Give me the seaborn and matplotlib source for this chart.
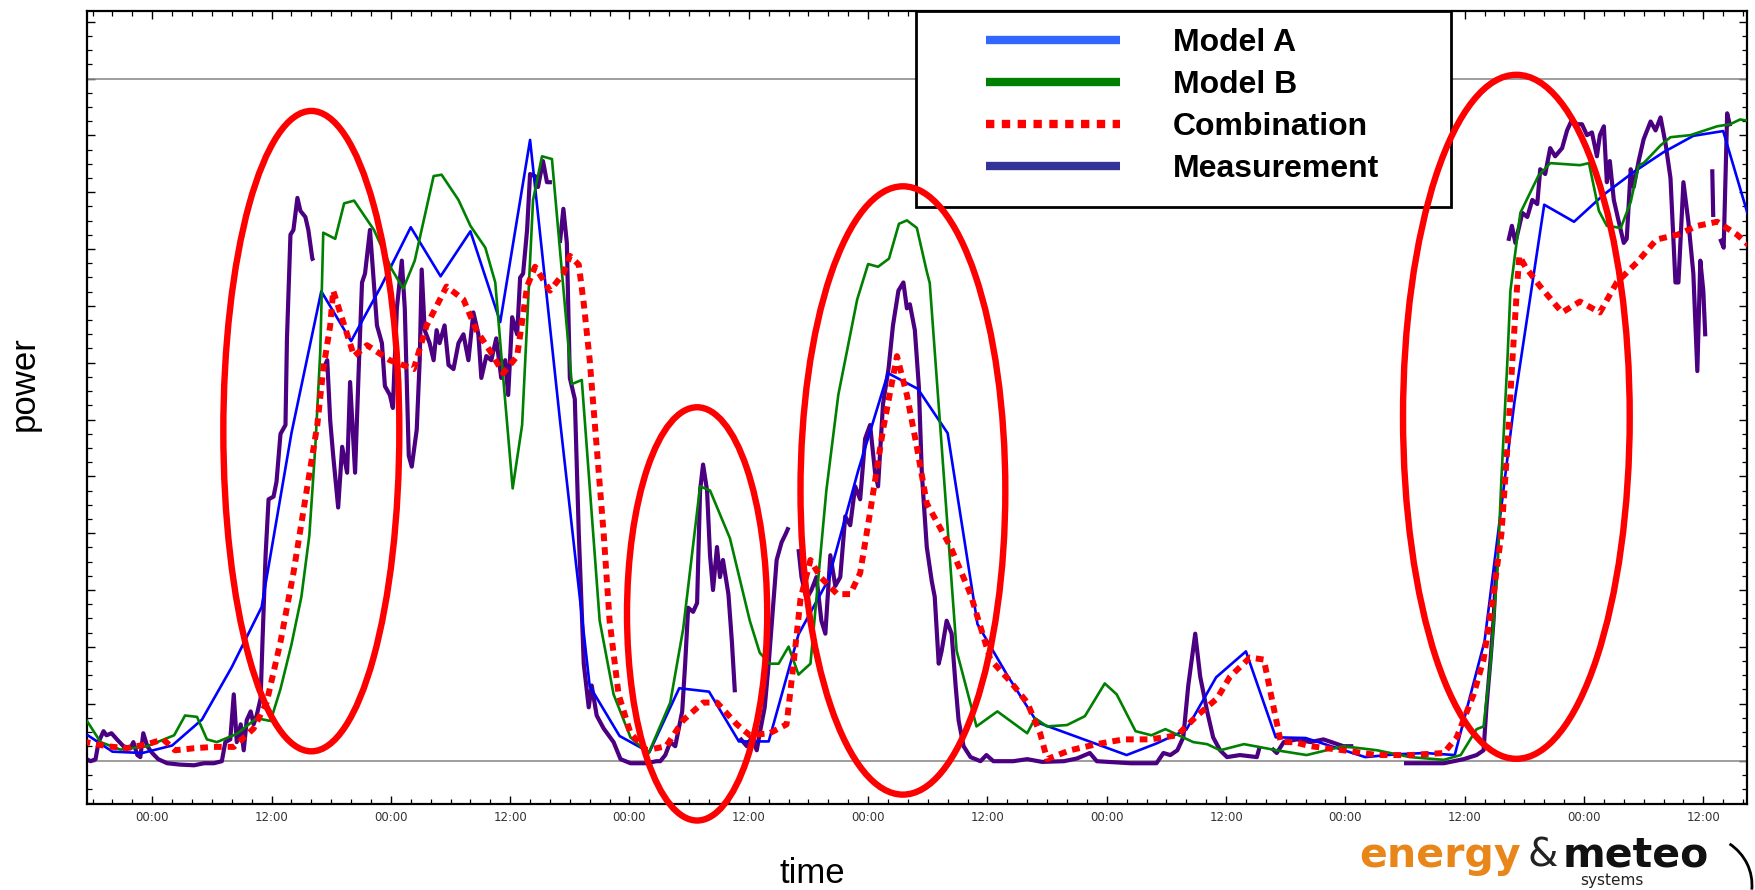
import numpy as np
import pandas as pd
import matplotlib
matplotlib.use("Agg")
import matplotlib.pyplot as plt
import matplotlib.dates as mdates
from matplotlib.patches import Ellipse, Rectangle, Arc
from matplotlib.lines import Line2D
from matplotlib.ticker import MultipleLocator
import seaborn as sns

# hours counted from the first 00:00 tick, power in % of installed capacity
start = pd.Timestamp("2010-11-15 00:00")

model_a_hours = list(range(-7, 162, 3))
model_a = [4.2, 1.3, 1.1, 2.2, 6.0, 13.7, 22.5, 48.0, 68.8, 61.5,
           69.5, 78.2, 71.0, 77.6, 64.3, 91.0, 50.0, 10.9, 3.6, 1.2,
           10.6, 10.1, 2.8, 2.8, 18.5, 26.5, 42.5, 56.8, 54.5, 48.0,
           20.0, 12.5, 5.6, 4.0, 2.4, 0.8, 2.5, 4.5, 12.2, 16.0,
           3.4, 3.3, 1.9, 0.5, 0.9, 1.1, 0.8, 17.5, 52.5, 81.5,
           79.0, 83.0, 86.3, 89.2, 91.6, 92.3, 77.5]

model_b_hours = [-7, -5.2, -3.2, -0.5, 2.2, 3.3, 4.5, 5.5, 6.5, 8.5,
                 10.5, 11.9, 12.9, 14.0, 15.0, 15.8, 16.4, 16.9, 17.2, 18.4,
                 19.3, 20.3, 22.3, 24.1, 25.25, 26.4, 28.3, 29.1, 30.8, 32.0,
                 33.5, 34.5, 35.3, 36.25, 37.2, 38.3, 39.2, 40.2, 42.2, 43.2,
                 45.0, 46.4, 48.1, 49.9, 52.1, 53.4, 55.1, 56.1, 58.1, 60.1,
                 61.1, 62.1, 63.0, 64.0, 65.0, 66.2, 66.8, 67.8, 69.0, 70.9,
                 72.0, 73.0, 74.1, 75.1, 75.9, 76.9, 77.9, 78.2, 80.9, 82.9,
                 85.0, 88.0, 88.8, 90.0, 92.0, 93.8, 95.8, 97.0, 98.9, 100.5,
                 101.9, 104.7, 106.1, 107.4, 109.8, 113.1, 116.1, 119.8, 123.2, 126.5,
                 129.9, 131.6, 133.2, 133.9, 134.6, 135.3, 135.7, 136.3, 136.6, 137.6,
                 139.4, 140.6, 143.6, 144.5, 145.5, 146.3, 147.7, 148.7, 149.5, 150.0,
                 151.7, 152.7, 154.7, 157.4, 158.7, 159.7, 161.0]
model_b = [6.8, 2.7, 1.6, 2.1, 3.7, 6.6, 6.4, 3.1, 2.7, 3.9,
           6.2, 5.8, 10.5, 17.0, 24.0, 33.0, 46.0, 60.0, 77.4, 76.5,
           81.7, 82.1, 77.8, 72.0, 69.2, 73.3, 85.7, 85.9, 82.2, 78.4,
           75.2, 70.1, 56.1, 39.9, 49.2, 82.2, 88.6, 88.2, 55.2, 55.8,
           20.5, 9.7, 3.4, 1.0, 8.5, 19.3, 40.2, 39.6, 32.6, 20.5,
           15.8, 14.2, 14.2, 16.7, 12.6, 14.2, 23.7, 39.6, 53.6, 67.6,
           72.8, 72.4, 73.6, 78.7, 79.2, 78.1, 71.7, 70.0, 16.1, 5.0,
           7.2, 4.0, 6.2, 5.0, 5.2, 6.5, 11.3, 9.7, 4.3, 3.7,
           4.6, 2.7, 2.4, 1.5, 2.4, 1.5, 0.8, 2.1, 1.5, 0.5,
           0.1, 0.8, 4.6, 5.0, 14.2, 28.0, 41.5, 58.7, 68.9, 80.3,
           85.7, 87.6, 87.3, 87.6, 80.6, 78.4, 78.1, 81.9, 87.3, 87.6,
           90.2, 91.4, 91.7, 93.0, 93.3, 94.0, 93.7]

combination_hours = [-7, -4.6, -2.6, -0.5, 1.1, 2.3, 4.2, 6.2, 8.2, 10.2,
                     11.5, 12.9, 14.2, 15.6, 16.6, 17.2, 17.9, 18.2, 18.9, 20.3,
                     21.6, 23.9, 26.3, 27.6, 29.6, 31.3, 32.6, 34.0, 35.3, 36.7,
                     37.7, 38.5, 40.0, 41.35, 42.0, 42.9, 43.4, 44.0, 44.7, 45.4,
                     46.0, 46.9, 48.1, 49.7, 51.7, 53.4, 55.4, 56.8, 58.8, 60.1,
                     62.1, 63.8, 64.5, 65.2, 66.2, 67.2, 68.9, 70.2, 71.2, 72.2,
                     73.5, 74.9, 75.9, 76.9, 77.9, 80.3, 82.3, 84.3, 86.3, 88.0,
                     89.3, 90.0, 92.3, 95.0, 97.7, 100.4, 103.1, 105.1, 107.1, 108.4,
                     110.4, 111.8, 112.6, 113.5, 114.8, 116.5, 119.8, 123.2, 126.5, 129.9,
                     131.2, 132.9, 133.9, 134.9, 135.7, 136.3, 136.8, 137.3, 137.5, 138.1,
                     139.6, 141.8, 143.6, 145.6, 147.3, 149.3, 151.3, 153.4, 155.4, 157.4,
                     159.4, 161.0]
combination = [2.8, 2.1, 1.8, 2.4, 3.1, 1.5, 1.8, 2.0, 2.0, 4.7,
               8.5, 17.4, 27.5, 40.2, 49.2, 57.4, 63.8, 68.9, 65.7, 59.3,
               60.9, 58.7, 57.4, 63.8, 69.5, 67.6, 63.1, 60.0, 56.8, 59.3,
               69.5, 72.4, 68.9, 71.4, 74.0, 72.7, 67.0, 58.7, 46.0, 33.3,
               20.5, 9.7, 4.0, 1.5, 2.1, 5.9, 8.5, 8.5, 5.3, 3.7,
               4.0, 5.3, 14.2, 23.7, 29.4, 26.9, 24.4, 24.4, 27.5, 36.4,
               48.5, 59.3, 53.6, 46.0, 37.7, 31.3, 24.4, 14.8, 11.6, 8.5,
               4.0, 0.2, 1.5, 2.4, 3.1, 3.1, 3.7, 6.6, 9.1, 12.3,
               15.1, 14.8, 9.1, 2.7, 2.7, 2.1, 1.5, 0.8, 0.8, 1.1,
               3.4, 9.7, 14.8, 24.4, 33.3, 46.0, 58.7, 70.1, 74.0, 72.4,
               69.5, 65.7, 67.3, 65.7, 70.1, 73.0, 76.4, 77.1, 78.4, 79.0,
               77.1, 75.0]

nan = np.nan
measurement_hours = [
    -6.6, -6.2, -5.7, -5.4, -4.9, -4.6, -4.1, -3.55, -2.9, -2.2,
    -1.9, -1.5, -1.2, -0.9, -0.5, 0.0, 0.6, 1.5, 2.8, 4.2,
    5.2, 6.2, 7.0, 7.35, 7.85, 8.2, 8.5, 8.9, 9.2, 9.5,
    9.9, 10.2, 10.5, 10.9, 11.1, 11.4, 11.7, 12.2, 12.5, 12.9,
    13.4, 13.55, 13.9, 14.2, 14.6, 14.9, 15.4, 15.7, 16.1, 16.2,
    16.7, 17.2, 17.6, 17.9, 18.2, 18.7, 19.1, 19.6, 19.9, 20.4,
    20.8, 21.1, 21.4, 21.9, 22.6, 23.1, 23.4, 23.9, 24.2, 24.6,
    25.1, 25.4, 25.8, 26.1, 26.6, 26.9, 27.1, 27.4, 27.9, 28.3,
    28.6, 28.9, 29.4, 29.8, 30.3, 30.8, 31.3, 31.8, 32.3, 32.8,
    33.1, 33.6, 34.1, 34.6, 35.1, 35.5, 35.8, 36.2, 36.7, 37.0,
    37.3, 37.7, 38.0, 38.5, 38.8, 39.3, 39.7, 40.2, 40.6, 41.0,
    41.35, 41.7, 42.0, 42.5, 42.9, 43.4, 43.9, 44.2, 44.7, 45.4,
    46.4, 47.1, 48.1, 49.7, 50.7, 51.1, 51.6, 52.1, 52.6, 53.3,
    53.6, 53.9, 54.4, 54.8, 55.1, 55.4, 55.8, 56.1, 56.4, 56.8,
    57.1, 57.4, 57.95, 58.3, 58.6, 58.85, 59.1, 59.8, 60.3, 60.8,
    61.1, 61.6, 62.0, 62.5, 62.8, 63.3, 63.7, 64.0, 64.5, 65.0,
    65.3, 65.8, 66.3, 66.8, 67.3, 67.7, 68.2, 68.7, 69.2, 69.7,
    70.2, 70.7, 71.2, 71.7, 72.2, 72.7, 73.0, 73.5, 74.05, 74.5,
    75.05, 75.55, 75.9, 76.2, 76.7, 77.1, 77.4, 77.9, 78.4, 78.7,
    79.1, 79.4, 79.9, 80.4, 80.8, 81.1, 81.6, 82.3, 83.3, 83.9,
    84.6, 86.6, 88.0, 89.5, 91.7, 93.0, 94.3, 95.0, 98.4, 101.0,
    101.7, 102.4, 103.1, 103.7, 104.2, 104.9, 105.4, 106.1, 106.7, 107.4,
    108.1, 109.4, 111.1, 111.4, 112.0, 112.6, 113.1, 113.8, 115.1, 116.5,
    117.8, 119.8, 120.8, 123.0, 125.9, 129.9, 131.9, 133.2, 133.9, 134.2,
    134.6, 134.9, 135.2, 135.8, 136.4, 136.75, 137.1, 137.4, 137.8, 138.3,
    138.8, 139.3, 139.6, 140.1, 140.6, 141.1, 141.8, 142.3, 142.8, 143.3,
    143.8, 144.3, 144.8, 145.3, 145.6, 146.0, 146.3, 146.6, 147.0, 147.5,
    148.0, 148.3, 148.7, 149.0, 149.5, 150.0, 150.7, 151.2, 151.7, 152.2,
    152.7, 153.2, 153.5, 154.0, 154.5, 155.0, 155.4, 155.7, 156.0, 156.2,
    156.5, 156.9, 157.0, 157.3, 157.7, 158.05, 158.4, 158.7]
measurement = [
    0.2, -0.1, 0.2, 2.7, 4.3, 3.7, 4.0, 3.1, 2.1, 1.8,
    2.7, 0.8, 0.5, 4.0, 2.1, 1.1, 0.2, -0.4, -0.6, -0.7,
    -0.4, -0.4, -0.1, 2.7, 3.1, 9.7, 2.7, 5.3, 1.5, 5.9,
    7.2, 5.3, 6.6, 9.1, 18.0, 30.1, 38.3, 38.7, 40.9, 47.9,
    49.2, 61.9, 77.1, 77.8, 82.5, 80.6, 79.7, 77.8, 73.6, 73.3,
    nan, 57.4, 58.7, 49.8, 44.7, 37.1, 46.0, 42.2, 55.5, 42.2,
    58.7, 70.1, 71.4, 77.8, 63.8, 61.2, 54.9, 53.6, 51.7, 66.3,
    73.3, 66.3, 44.7, 43.1, 48.5, 58.7, 72.0, 63.1, 61.2, 58.7,
    63.1, 61.2, 63.8, 58.0, 57.4, 61.2, 62.5, 58.7, 65.7, 62.5,
    56.1, 59.3, 58.7, 61.9, 56.1, 58.7, 53.6, 65.0, 62.5, 70.8,
    71.4, 77.8, 86.0, 85.7, 84.1, 87.9, 84.8, 84.8, nan, 75.9,
    80.9, 75.9, 56.1, 53.0, 33.3, 14.2, 7.8, 11.0, 6.6, 4.7,
    2.7, 0.2, -0.4, -0.4, -0.1, -0.1, 0.8, 2.7, 2.1, 7.2,
    14.2, 22.4, 21.8, 23.1, 39.6, 43.4, 39.6, 30.1, 25.0, 31.3,
    26.9, 29.4, 24.4, 17.4, 10.0, nan, 3.3, 2.1, 3.4, 1.5,
    4.0, 7.8, 14.2, 23.7, 29.4, 32.0, 33.2, 34.2, nan, 31.0,
    26.9, 23.7, 25.0, 26.9, 20.5, 18.6, 30.1, 25.6, 26.9, 35.8,
    34.5, 40.2, 38.3, 47.2, 49.2, 42.2, 40.2, 52.3, 57.4, 63.8,
    68.9, 70.1, 66.3, 66.9, 63.1, 54.9, 42.2, 31.3, 26.3, 24.0,
    14.2, 16.1, 20.5, 18.6, 11.0, 5.9, 2.1, 0.5, -0.1, 0.8,
    -0.1, -0.1, 0.2, -0.2, -0.1, 0.3, 1.1, -0.1, -0.4, -0.4,
    1.1, 0.8, 1.5, 3.4, 11.0, 18.6, 12.3, 7.2, 3.4, 1.5,
    0.5, 0.8, 0.5, 2.1, nan, 1.8, 1.1, 2.7, 3.1, 2.7,
    3.1, 2.1, 2.1, nan, -0.4, -0.4, 0.2, 0.8, 1.5, 8.0,
    14.8, 20.5, 28.8, nan, 76.2, 78.4, 75.9, 77.8, 80.3, 79.7,
    82.2, 81.6, 86.7, 86.0, 89.8, 88.6, 89.8, 92.4, 94.0, 93.3,
    93.3, 91.7, 92.1, 88.6, 91.7, 93.0, 84.8, 87.9, 82.2, 79.0,
    75.9, 76.5, 86.7, 84.1, 87.9, 91.1, 93.7, 92.4, 94.3, 90.5,
    85.4, 70.1, 70.1, 84.8, 79.0, 71.4, 57.1, 73.3, 68.9, 62.2,
    nan, 86.7, 79.7, nan, 76.5, 75.2, 94.9, 93.0]

# red annotation ellipses: centre (hours, %), size (hours, %)
ellipse_hours = [16.0, 54.8, 75.5, 137.2]
ellipse_power = [48.3, 21.5, 39.6, 50.4]
ellipse_width = [17.7, 14.1, 20.6, 22.8]
ellipse_height = [93.9, 60.6, 89.2, 100.3]

labels = ["Model A", "Model B", "Combination", "Measurement"]


def to_time(hours):
    return start + pd.to_timedelta(np.asarray(hours, dtype=float), unit="h")


sns.set_theme(style="ticks")
plt.rcParams["font.family"] = ["DejaVu Sans"]
plt.rcParams["text.color"] = "black"
plt.rcParams["axes.labelcolor"] = "black"
plt.rcParams["lines.solid_capstyle"] = "butt"

fig = plt.figure(figsize=(17.56, 8.9), dpi=100)
ax = fig.add_axes([0.0495, 0.0966, 0.9454, 0.891])
ax.set_facecolor("white")

ax.axhline(0, color="#8c8c8c", lw=1.2, zorder=1)
ax.axhline(100, color="#8c8c8c", lw=1.2, zorder=1)

meas = pd.DataFrame({"time": to_time(measurement_hours), "power": measurement})
meas["seg"] = meas["power"].isna().cumsum()
meas = meas.dropna()
sns.lineplot(data=meas, x="time", y="power", units="seg", estimator=None,
             color="#4b0082", linewidth=3.0, ax=ax, zorder=2)

sns.lineplot(x=to_time(model_a_hours), y=model_a, color="#0000ff",
             linewidth=1.9, ax=ax, zorder=3)
sns.lineplot(x=to_time(model_b_hours), y=model_b, color="#008000",
             linewidth=1.9, ax=ax, zorder=3)
sns.lineplot(x=to_time(combination_hours), y=combination, color="#ff0000",
             linewidth=4.3, ax=ax, zorder=4)
ax.lines[-1].set_dashes((1.3, 1.0))
ax.lines[-1].set_dash_capstyle("butt")

for h, p, w, ht in zip(ellipse_hours, ellipse_power, ellipse_width, ellipse_height):
    e = Ellipse((mdates.date2num(to_time([h])[0]), p), w / 24, ht,
                fill=False, edgecolor="#ff0000", lw=4.6, zorder=8, clip_on=False)
    ax.add_patch(e)

ax.set_xlim(to_time([-6.57])[0], to_time([160.4])[0])
ax.set_ylim(-6.38, 109.9)

ax.xaxis.set_major_locator(mdates.HourLocator(byhour=[0, 12]))
ax.xaxis.set_minor_locator(mdates.HourLocator(byhour=range(0, 24, 2)))
ax.xaxis.set_major_formatter(mdates.DateFormatter("%H:%M"))
ax.yaxis.set_major_locator(MultipleLocator(100 / 12))
ax.yaxis.set_minor_locator(MultipleLocator(100 / 48))
ax.tick_params(which="both", direction="in", top=True, right=True,
               labelleft=False, color="black")
ax.tick_params(which="major", length=6, width=1.0)
ax.tick_params(which="minor", length=3.5, width=0.9)
ax.tick_params(axis="x", labelsize=8.5, labelcolor="#333333", pad=5)
for sp in ax.spines.values():
    sp.set_linewidth(1.6)
    sp.set_color("black")

ax.set_xlabel("time", fontsize=25, family="Liberation Sans", color="black")
ax.xaxis.set_label_coords(0.437, -0.067)
ax.set_ylabel("power", fontsize=25, family="Liberation Sans", color="black")
ax.yaxis.set_label_coords(-0.028, 0.53)

# legend box
ax.add_patch(Rectangle((0.4994, 0.7528), 0.3223, 0.2472, transform=ax.transAxes,
                       facecolor="white", edgecolor="black", lw=2.0,
                       zorder=6, clip_on=False))
handles = [Line2D([], [], color="#3366ff", lw=6, solid_capstyle="butt"),
           Line2D([], [], color="#008000", lw=6, solid_capstyle="butt"),
           Line2D([], [], color="#ff0000", lw=6, dashes=(1.0, 0.9), dash_capstyle="butt"),
           Line2D([], [], color="#333399", lw=6, solid_capstyle="butt")]
leg = ax.legend(handles, labels, loc="upper left", bbox_to_anchor=(0.5416, 0.978),
                frameon=False, borderpad=0, borderaxespad=0, handlelength=4.2,
                handletextpad=1.66, labelspacing=0.375,
                prop={"family": "Liberation Sans", "weight": "bold", "size": 23})
for t in leg.get_texts():
    t.set_color("black")
leg.set_zorder(7)

# logo
fig.text(0.774, 0.026, "energy", color="#e8861a", fontsize=29.5, weight="bold",
         va="baseline", ha="left")
fig.text(0.870, 0.026, "&", color="#222222", fontsize=28, va="baseline", ha="left")
fig.text(0.890, 0.026, "meteo", color="#111111", fontsize=29.5, weight="bold",
         va="baseline", ha="left")
fig.text(0.918, 0.002, "systems", color="#222222", fontsize=11, va="bottom", ha="center")
fig.add_artist(Arc((1700 / 1756, 5 / 890), 104 / 1756, 100 / 890, theta1=-10, theta2=70,
                   transform=fig.transFigure, color="black", lw=2.0))

fig.savefig("out.png", dpi=100, facecolor="white")
